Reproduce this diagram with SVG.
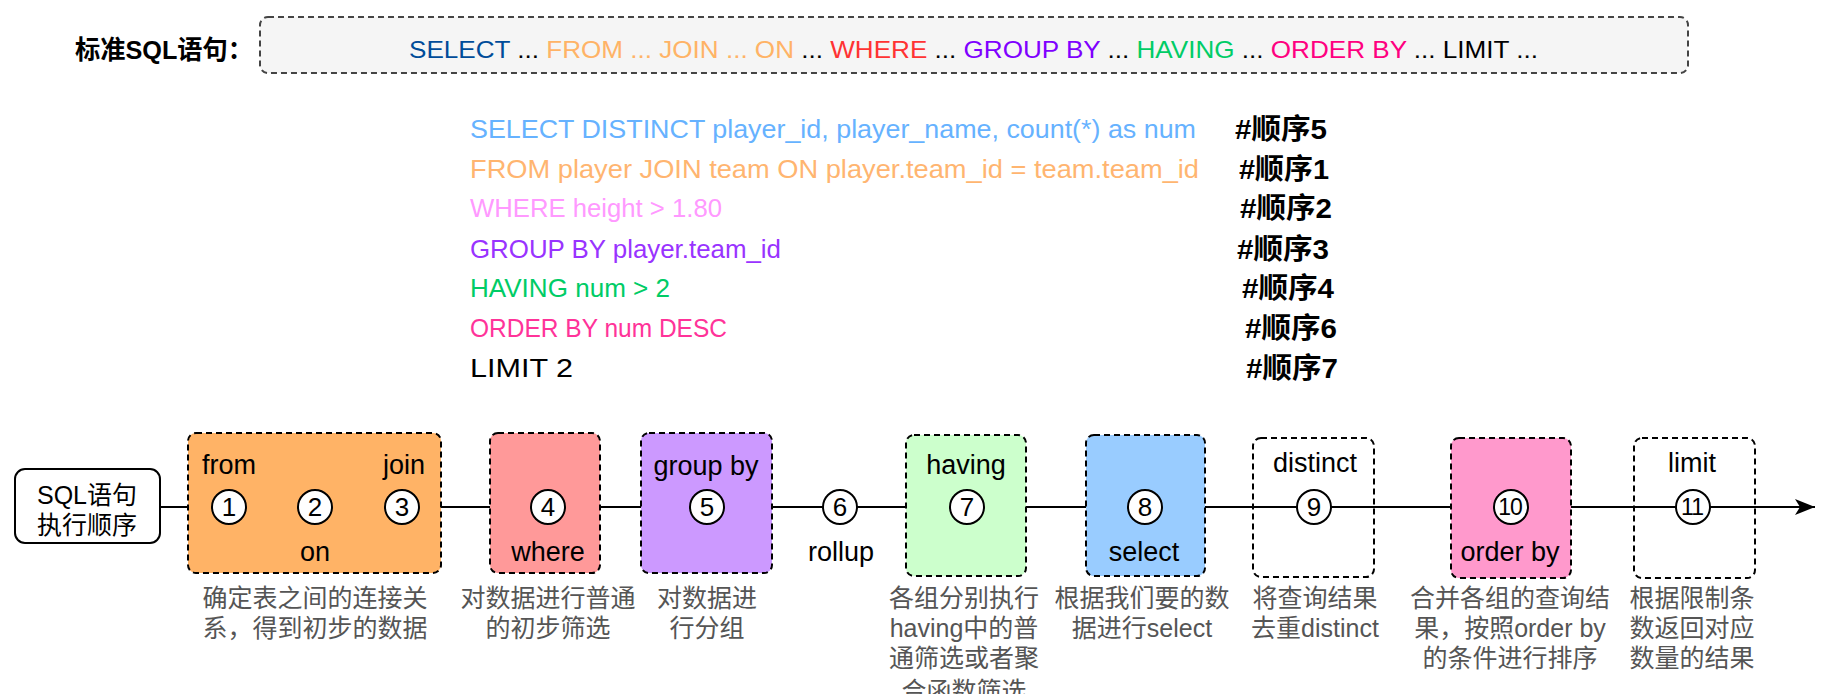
<svg xmlns="http://www.w3.org/2000/svg" width="1830" height="694" viewBox="0 0 1830 694">
<defs>
<marker id="arrow" viewBox="0 0 20 16" refX="20" refY="8" markerWidth="20" markerHeight="16" markerUnits="userSpaceOnUse" orient="auto">
<path d="M0,0 L20,8 L0,16 L5,8 Z" fill="#000"/>
</marker>
<style>
.lat{font-family:"Liberation Sans","DejaVu Sans",sans-serif;}
.cjk{font-family:"Liberation Sans","Noto Sans CJK SC",sans-serif;}
.box{stroke:#000;stroke-width:2;stroke-dasharray:6 4;}
.lbl{font-family:"Liberation Sans",sans-serif;font-size:27px;fill:#000;text-anchor:middle;}
.num{font-family:"Liberation Sans",sans-serif;font-size:26px;fill:#000;text-anchor:middle;}
.num2{font-family:"Liberation Sans",sans-serif;font-size:23px;fill:#000;text-anchor:middle;letter-spacing:-1px;}
.circ{fill:#fff;stroke:#000;stroke-width:2;}
.desc{font-family:"Liberation Sans","Noto Sans CJK SC",sans-serif;font-size:25px;fill:#555;text-anchor:middle;}
.sql{font-family:"Liberation Sans","DejaVu Sans",sans-serif;font-size:26px;}
.ord{font-family:"Liberation Sans","Noto Sans CJK SC",sans-serif;font-size:28px;font-weight:bold;fill:#000;}
</style>
</defs>
<rect width="1830" height="694" fill="#fff"/>

<g id="title">
<text x="75" y="59" class="cjk" font-size="26" font-weight="bold" fill="#000" textLength="178" lengthAdjust="spacingAndGlyphs">标准SQL语句：</text>
</g>
<g id="standard-sql">
<rect x="260" y="17" width="1428" height="56" rx="8" fill="#f5f5f5" stroke="#444" stroke-width="2" stroke-dasharray="6 4"/>
<text x="409" y="58" class="lat" font-size="24" textLength="1129" lengthAdjust="spacingAndGlyphs"><tspan fill="#004C99">SELECT</tspan><tspan fill="#000"> ... </tspan><tspan fill="#FFB366">FROM ... JOIN ... ON</tspan><tspan fill="#000"> ... </tspan><tspan fill="#FF3333">WHERE</tspan><tspan fill="#000"> ... </tspan><tspan fill="#7F00FF">GROUP BY</tspan><tspan fill="#000"> ... </tspan><tspan fill="#00CC66">HAVING</tspan><tspan fill="#000"> ... </tspan><tspan fill="#FF0080">ORDER BY</tspan><tspan fill="#000"> ... LIMIT ...</tspan></text>
</g>

<g id="sql-example">
<text x="470" y="138" class="sql" fill="#66B2FF" textLength="726" lengthAdjust="spacingAndGlyphs">SELECT DISTINCT player_id, player_name, count(*) as num</text>
<text x="470" y="178" class="sql" fill="#FFB570" textLength="729" lengthAdjust="spacingAndGlyphs">FROM player JOIN team ON player.team_id = team.team_id</text>
<text x="470" y="217" class="sql" fill="#FF99FF" textLength="252" lengthAdjust="spacingAndGlyphs">WHERE height &gt; 1.80</text>
<text x="470" y="258" class="sql" fill="#9933FF" textLength="311" lengthAdjust="spacingAndGlyphs">GROUP BY player.team_id</text>
<text x="470" y="297" class="sql" fill="#00CC66" textLength="200" lengthAdjust="spacingAndGlyphs">HAVING num &gt; 2</text>
<text x="470" y="337" class="sql" fill="#FF3399" textLength="257" lengthAdjust="spacingAndGlyphs">ORDER BY num DESC</text>
<text x="470" y="377" class="sql" fill="#000" textLength="103" lengthAdjust="spacingAndGlyphs">LIMIT 2</text>
<text x="1235" y="139" class="ord" textLength="92" lengthAdjust="spacingAndGlyphs">#顺序5</text>
<text x="1239" y="179" class="ord" textLength="90" lengthAdjust="spacingAndGlyphs">#顺序1</text>
<text x="1240" y="218" class="ord" textLength="92" lengthAdjust="spacingAndGlyphs">#顺序2</text>
<text x="1237" y="259" class="ord" textLength="92" lengthAdjust="spacingAndGlyphs">#顺序3</text>
<text x="1242" y="298" class="ord" textLength="92" lengthAdjust="spacingAndGlyphs">#顺序4</text>
<text x="1245" y="338" class="ord" textLength="92" lengthAdjust="spacingAndGlyphs">#顺序6</text>
<text x="1246" y="378" class="ord" textLength="92" lengthAdjust="spacingAndGlyphs">#顺序7</text>
</g>

<g id="connectors">
<line x1="160" y1="507" x2="1815" y2="507" stroke="#000" stroke-width="2" marker-end="url(#arrow)"/>
</g>

<g id="sql-order">
<rect x="15" y="469" width="145" height="74" rx="10" fill="#fff" stroke="#000" stroke-width="2"/>
<text x="87" y="504" class="cjk" font-size="25" fill="#000" text-anchor="middle">SQL语句</text>
<text x="87" y="534" class="cjk" font-size="25" fill="#000" text-anchor="middle">执行顺序</text>
</g>

<g id="step-from-join">
<rect x="188" y="433" width="253" height="140" rx="8" fill="#FFB366" class="box"/>
<text x="202" y="474" class="lbl" style="text-anchor:start">from</text>
<text x="425" y="474" class="lbl" style="text-anchor:end">join</text>
<text x="315" y="561" class="lbl">on</text>
<circle cx="229" cy="507" r="17" class="circ"/><text x="229" y="516" class="num">1</text>
<circle cx="315" cy="507" r="17" class="circ"/><text x="315" y="516" class="num">2</text>
<circle cx="402" cy="507" r="17" class="circ"/><text x="402" y="516" class="num">3</text>
<text x="315" y="607" class="desc">确定表之间的连接关</text>
<text x="315" y="637" class="desc">系，得到初步的数据</text>
</g>

<g id="step-where">
<rect x="490" y="433" width="110" height="140" rx="8" fill="#FF9999" class="box"/>
<text x="548" y="561" class="lbl">where</text>
<circle cx="548" cy="507" r="17" class="circ"/><text x="548" y="516" class="num">4</text>
<text x="548" y="607" class="desc">对数据进行普通</text>
<text x="548" y="637" class="desc">的初步筛选</text>
</g>

<g id="step-group-by">
<rect x="641" y="433" width="131" height="140" rx="8" fill="#CC99FF" class="box"/>
<text x="706" y="475" class="lbl">group by</text>
<circle cx="707" cy="507" r="17" class="circ"/><text x="707" y="516" class="num">5</text>
<text x="707" y="607" class="desc">对数据进</text>
<text x="707" y="637" class="desc">行分组</text>
</g>

<g id="step-rollup">
<circle cx="840" cy="507" r="17" class="circ"/><text x="840" y="516" class="num">6</text>
<text x="841" y="561" class="lbl">rollup</text>
</g>

<g id="step-having">
<rect x="906" y="435" width="120" height="141" rx="8" fill="#CCFFCC" class="box"/>
<text x="966" y="474" class="lbl">having</text>
<circle cx="967" cy="507" r="17" class="circ"/><text x="967" y="516" class="num">7</text>
<text x="964" y="607" class="desc">各组分别执行</text>
<text x="964" y="637" class="desc">having中的普</text>
<text x="964" y="667" class="desc">通筛选或者聚</text>
<text x="964" y="700" class="desc">合函数筛选</text>
</g>

<g id="step-select">
<rect x="1086" y="435" width="119" height="141" rx="8" fill="#99CCFF" class="box"/>
<text x="1144" y="561" class="lbl">select</text>
<circle cx="1145" cy="507" r="17" class="circ"/><text x="1145" y="516" class="num">8</text>
<text x="1142" y="607" class="desc">根据我们要的数</text>
<text x="1142" y="637" class="desc">据进行select</text>
</g>

<g id="step-distinct">
<rect x="1253" y="438" width="121" height="139" rx="8" fill="none" class="box"/>
<text x="1315" y="472" class="lbl">distinct</text>
<circle cx="1314" cy="507" r="17" class="circ"/><text x="1314" y="516" class="num">9</text>
<text x="1315" y="607" class="desc">将查询结果</text>
<text x="1315" y="637" class="desc">去重distinct</text>
</g>

<g id="step-order-by">
<rect x="1451" y="438" width="120" height="140" rx="8" fill="#FF99CC" class="box"/>
<text x="1510" y="561" class="lbl">order by</text>
<circle cx="1511" cy="507" r="17" class="circ"/><text x="1510" y="515" class="num2">10</text>
<text x="1510" y="607" class="desc">合并各组的查询结</text>
<text x="1510" y="637" class="desc">果，按照order by</text>
<text x="1510" y="667" class="desc">的条件进行排序</text>
</g>

<g id="step-limit">
<rect x="1634" y="438" width="121" height="140" rx="8" fill="none" class="box"/>
<text x="1692" y="472" class="lbl">limit</text>
<circle cx="1693" cy="507" r="17" class="circ"/><text x="1692" y="515" class="num2">11</text>
<text x="1692" y="607" class="desc">根据限制条</text>
<text x="1692" y="637" class="desc">数返回对应</text>
<text x="1692" y="667" class="desc">数量的结果</text>
</g>
</svg>
